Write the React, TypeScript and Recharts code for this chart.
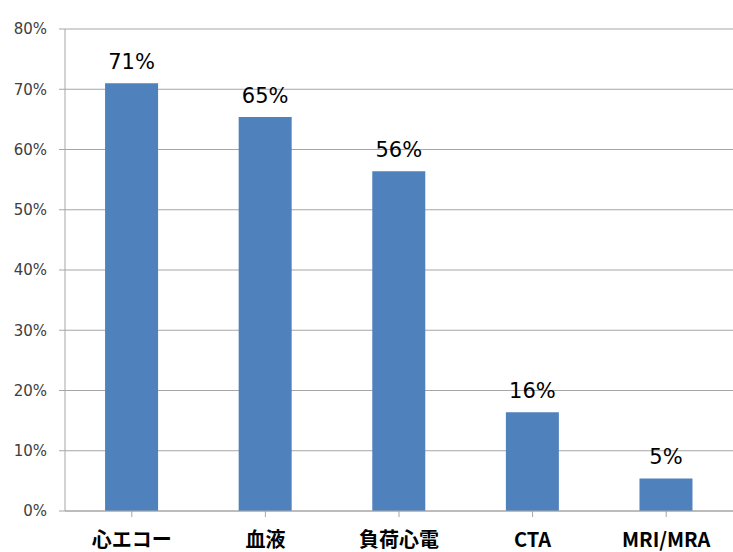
import { Bar, BarChart, CartesianGrid, LabelList, XAxis, YAxis } from "recharts";

const categories = ["心エコー", "血液", "負荷心電", "CTA", "MRI/MRA"];
const percents = [71, 65.4, 56.4, 16.4, 5.4];
const yTicks = [0, 10, 20, 30, 40, 50, 60, 70, 80];

const data = categories.map((name, i) => ({ name, value: percents[i] }));

export default function App() {
  return (
    <div style={{ position: "absolute", left: 0, top: 0, background: "#fff" }}>
      <BarChart
        width={733}
        height={552}
        data={data}
        margin={{ top: 29, right: 0, bottom: 0, left: 0 }}
        barCategoryGap="30%"
      >
        <CartesianGrid vertical={false} stroke="#a6a6a6" />
        <XAxis
          dataKey="name"
          interval={0}
          height={41}
          stroke="#a6a6a6"
          tickSize={6}
          tickMargin={16}
          tick={{
            fill: "#000",
            fontSize: 20,
            fontWeight: "bold",
            fontFamily: "'Noto Sans CJK JP', sans-serif",
          }}
        />
        <YAxis
          width={65}
          domain={[0, 80]}
          ticks={yTicks}
          interval={0}
          stroke="#a6a6a6"
          tickSize={6}
          tickMargin={12}
          tickFormatter={(v) => `${v}%`}
          tick={{ fill: "#404040", fontSize: 15, fontFamily: "'DejaVu Sans', sans-serif" }}
        />
        <Bar dataKey="value" fill="#4f81bd" isAnimationActive={false}>
          <LabelList
            dataKey="value"
            position="top"
            offset={14}
            formatter={(v: any) => `${Math.round(Number(v))}%`}
            style={{ fill: "#000", fontSize: 21, fontFamily: "'DejaVu Sans', sans-serif" }}
          />
        </Bar>
      </BarChart>
    </div>
  );
}
